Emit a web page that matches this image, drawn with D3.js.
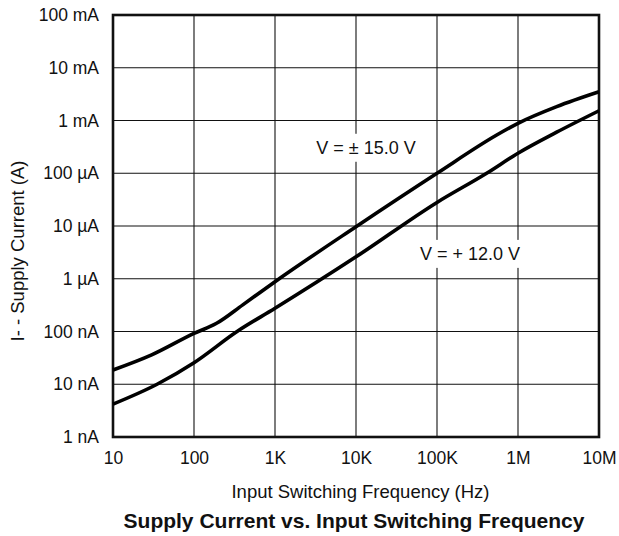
<!DOCTYPE html>
<html>
<head>
<meta charset="utf-8">
<script src="https://cdn.jsdelivr.net/npm/d3@7"></script>
<style>
  html, body { margin: 0; padding: 0; background: #fff; }
  svg { display: block; }
  text { font-family: "Liberation Sans", Arial, Helvetica, sans-serif; fill: #111; }
</style>
</head>
<body>
<svg id="chart" width="619" height="536"></svg>
<script>
// Frequency axis (Hz) decades and their labels
const freqTicks = [10, 100, 1e3, 1e4, 1e5, 1e6, 1e7];
const freqLabels = ["10", "100", "1K", "10K", "100K", "1M", "10M"];

// Current axis (A) decades and their labels
const currentTicks = [1e-9, 1e-8, 1e-7, 1e-6, 1e-5, 1e-4, 1e-3, 1e-2, 1e-1];
const currentLabels = ["1 nA", "10 nA", "100 nA", "1 \u00b5A", "10 \u00b5A", "100 \u00b5A", "1 mA", "10 mA", "100 mA"];

// Supply current vs. switching frequency, V = ±15.0 V
const freqPm15 =    [10,      30,     100,    190,     400,    1e3,    1e4,    1e5,    5.46e5, 1e6,     3e6,     1e7];
const currentPm15 = [1.86e-8, 3.6e-8, 9.2e-8, 1.43e-7, 3.2e-7, 8.8e-7, 9.7e-6, 1.0e-4, 5.3e-4, 8.85e-4, 1.83e-3, 3.5e-3];

// Supply current vs. switching frequency, V = +12.0 V
const freqP12 =    [10,     35,     100,     340,    1e3,     1e4,    1e5,    4.1e5,  1e6,    3e6,    1e7];
const currentP12 = [4.2e-9, 1.0e-8, 2.56e-8, 1.0e-7, 2.75e-7, 2.6e-6, 2.8e-5, 1.0e-4, 2.4e-4, 6.0e-4, 1.53e-3];

const seriesLabels = ["V = \u00b1 15.0 V", "V = + 12.0 V"];

const svg = d3.select("#chart");
const plotLeft = 113, plotRight = 599, plotTop = 15, plotBottom = 437;

const x = d3.scaleLog().domain([10, 1e7]).range([plotLeft, plotRight]);
const y = d3.scaleLog().domain([1e-9, 1e-1]).range([plotBottom, plotTop]);

// Grid
const grid = svg.append("g").attr("stroke", "#111").attr("stroke-width", 1.1);
grid.selectAll("line.v").data(freqTicks.slice(1, -1)).join("line")
  .attr("class", "v")
  .attr("x1", d => x(d)).attr("x2", d => x(d))
  .attr("y1", plotTop).attr("y2", plotBottom);
grid.selectAll("line.h").data(currentTicks.slice(1, -1)).join("line")
  .attr("class", "h")
  .attr("y1", d => y(d)).attr("y2", d => y(d))
  .attr("x1", plotLeft).attr("x2", plotRight);

// Axes (labels only; the frame is drawn separately)
const xAxis = d3.axisBottom(x).tickValues(freqTicks)
  .tickFormat((d, i) => freqLabels[i]).tickSize(0).tickPadding(15);
svg.append("g").attr("transform", `translate(0,${plotBottom})`).call(xAxis)
  .call(g => g.select(".domain").remove())
  .selectAll("text").attr("font-size", 17.5).style("font-family", "Liberation Sans, Arial, sans-serif").attr("fill", "#111");

const yAxis = d3.axisLeft(y).tickValues(currentTicks)
  .tickFormat((d, i) => currentLabels[i]).tickSize(0).tickPadding(14);
svg.append("g").attr("transform", `translate(${plotLeft},0)`).call(yAxis)
  .call(g => g.select(".domain").remove())
  .selectAll("text").attr("font-size", 17.5).style("font-family", "Liberation Sans, Arial, sans-serif").attr("fill", "#111");

// Frame
svg.append("rect")
  .attr("x", plotLeft).attr("y", plotTop)
  .attr("width", plotRight - plotLeft).attr("height", plotBottom - plotTop)
  .attr("fill", "none").attr("stroke", "#111").attr("stroke-width", 2.6);

// Curves
const line = d3.line().x(d => x(d[0])).y(d => y(d[1])).curve(d3.curveMonotoneX);
const series = [d3.zip(freqPm15, currentPm15), d3.zip(freqP12, currentP12)];
svg.append("g").selectAll("path").data(series).join("path")
  .attr("d", line)
  .attr("fill", "none").attr("stroke", "#000").attr("stroke-width", 3.6)
  .attr("stroke-linejoin", "round");

// Series labels with white backing
const labelPos = [
  { x: 1.33e4, y: 3.08e-4 },
  { x: 2.55e5, y: 3.0e-6 }
];
labelPos.forEach((p, i) => {
  const g = svg.append("g");
  const t = g.append("text")
    .attr("x", x(p.x)).attr("y", y(p.y))
    .attr("text-anchor", "middle").attr("dy", "0.35em")
    .attr("font-size", 18)
    .text(seriesLabels[i]);
  const bb = t.node().getBBox();
  g.insert("rect", "text")
    .attr("x", bb.x - 4).attr("y", bb.y - 4)
    .attr("width", bb.width + 8).attr("height", bb.height + 8)
    .attr("fill", "#fff");
});

// Axis titles
svg.append("text")
  .attr("transform", `translate(24,251) rotate(-90)`)
  .attr("text-anchor", "middle").attr("font-size", 18.5)
  .text("I- - Supply Current (A)");

svg.append("text")
  .attr("x", 360.5).attr("y", 498)
  .attr("text-anchor", "middle").attr("font-size", 18.5)
  .text("Input Switching Frequency (Hz)");

svg.append("text")
  .attr("x", 354).attr("y", 528)
  .attr("text-anchor", "middle").attr("font-size", 21).attr("font-weight", "bold")
  .text("Supply Current vs. Input Switching Frequency");
</script>
</body>
</html>
